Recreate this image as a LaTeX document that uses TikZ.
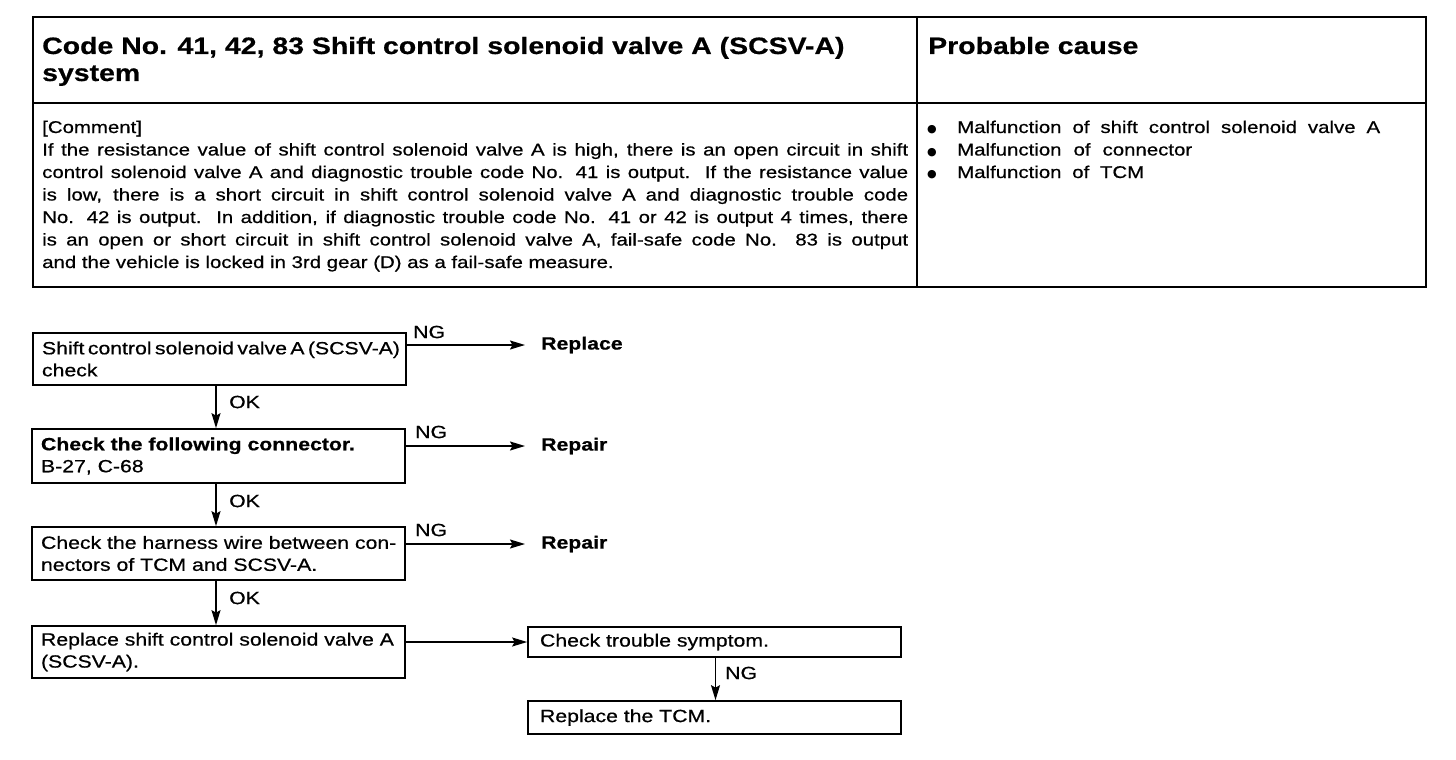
\documentclass[tikz,border=0pt]{standalone}
\usepackage{fontspec}
\setmainfont{Liberation Sans}[FakeStretch=1.2, FakeBold=0.6]
\newfontfamily\dotfont{DejaVu Sans}
\usetikzlibrary{arrows.meta}
\newcommand{\bulletdot}{\makebox[30pt][l]{\raisebox{0.5pt}{\dotfont\fontsize{11}{11}\selectfont ●}}}
\begin{document}
\begin{tikzpicture}[x=1pt,y=-1pt,
  tbl/.style={line width=2pt},
  titletxt/.style={font=\fontsize{23.7}{27}\selectfont\bfseries, anchor=base west, inner sep=0pt, align=left},
  bodytxt/.style={font=\fontsize{17}{22.5}\selectfont, anchor=base west, inner sep=0pt, align=left},
  flowbox/.style={draw, line width=1.7pt, font=\fontsize{17.7}{22}\selectfont, align=left,
    inner xsep=9pt, inner ysep=0pt, minimum width=373pt, text width=355pt},
  lbl/.style={font=\fontsize{17.7}{20}\selectfont, inner sep=0pt, anchor=west},
  restxt/.style={font=\fontsize{17.7}{20}\selectfont\bfseries, inner sep=0pt, anchor=west},
  arr/.style={line width=1.5pt, -{Stealth[length=15pt,width=9pt,inset=2.5pt]}}]
\useasboundingbox (0,0) rectangle (1456,760);
\fill[white] (0,0) rectangle (1456,760);

% table
\draw[tbl] (33,17) rectangle (1426,287);
\draw[tbl] (33,103) -- (1426,103);
\draw[tbl] (917,17) -- (917,287);

% multi-line nodes: base anchor = baseline of the last line
\node[titletxt] (title) at (42,81) {Code No. 41, 42, 83 Shift control solenoid valve A (SCSV-A)\\system};
\node[titletxt] (causehead) at (928,54) {Probable cause};

\node[bodytxt] (comment) at (42,268) {[Comment]\\
\makebox[866pt][s]{If the resistance value of shift control solenoid valve A is high, there is an open circuit in shift}\\
\makebox[866pt][s]{control solenoid valve A and diagnostic trouble code No. 41 is output.\ \ If the resistance value}\\
\makebox[866pt][s]{is low, there is a short circuit in shift control solenoid valve A and diagnostic trouble code}\\
\makebox[866pt][s]{No. 42 is output.\ \ In addition, if diagnostic trouble code No. 41 or 42 is output 4 times, there}\\
\makebox[866pt][s]{is an open or short circuit in shift control solenoid valve A, fail-safe code No. 83 is output}\\
and the vehicle is locked in 3rd gear (D) as a fail-safe measure.};

\node[bodytxt] (causes) at (927,178) {%
\bulletdot\makebox[423pt][s]{Malfunction of shift control solenoid valve A}\\
\bulletdot\makebox[235pt][s]{Malfunction of connector}\\
\bulletdot\makebox[187pt][s]{Malfunction of TCM}};

% flowchart
\node[flowbox, minimum height=52pt] (b1) at (219.5,359)
  {\makebox[358pt][s]{\spaceskip=3pt plus 10pt\relax Shift control solenoid valve A (SCSV-A)}\\check};
\node[flowbox, minimum height=54pt] (b2) at (218.5,456)
  {\textbf{\makebox[318pt][s]{Check the following connector.}}\\B-27, C-68};
\node[flowbox, minimum height=53pt] (b3) at (218.5,553.5)
  {\makebox[353pt][s]{Check the harness wire between con-}\\nectors of TCM and SCSV-A.};
\node[flowbox, minimum height=52pt] (b4) at (218.5,652)
  {Replace shift control solenoid valve A\\(SCSV-A).};
\node[flowbox, minimum height=30pt, text width=349pt, inner xsep=12pt] (b5) at (714.5,642)
  {Check trouble symptom.};
\node[flowbox, minimum height=33pt, text width=349pt, inner xsep=12pt] (b6) at (714.5,717.5)
  {Replace the TCM.};

\node[restxt] (r1) at (541,345) {Replace};
\node[restxt] (r2) at (541,446) {Repair};
\node[restxt] (r3) at (541,544) {Repair};

\draw[arr] (b1.east |- r1.west) -- ([xshift=-16pt]r1.west);
\draw[arr] (b2.east |- r2.west) -- ([xshift=-16pt]r2.west);
\draw[arr] (b3.east |- r3.west) -- ([xshift=-16pt]r3.west);
\draw[arr] (b4.east |- b5.west) -- (b5.west);

\node[lbl] (ng1) at (413,332) {NG};
\node[lbl] (ng2) at (415,432) {NG};
\node[lbl] (ng3) at (415,530) {NG};
\node[lbl] (ng4) at (725,673) {NG};

\draw[arr] ([xshift=-3.5pt]b1.south) -- ([xshift=-2.5pt]b2.north);
\draw[arr] ([xshift=-2.5pt]b2.south) -- ([xshift=-2.5pt]b3.north);
\draw[arr] ([xshift=-2.5pt]b3.south) -- ([xshift=-2.5pt]b4.north);
\draw[arr] ([xshift=1pt]b5.south) -- ([xshift=1pt]b6.north);

\node[lbl] (ok1) at (229,402) {OK};
\node[lbl] (ok2) at (229,501) {OK};
\node[lbl] (ok3) at (229,598) {OK};
\end{tikzpicture}
\end{document}
